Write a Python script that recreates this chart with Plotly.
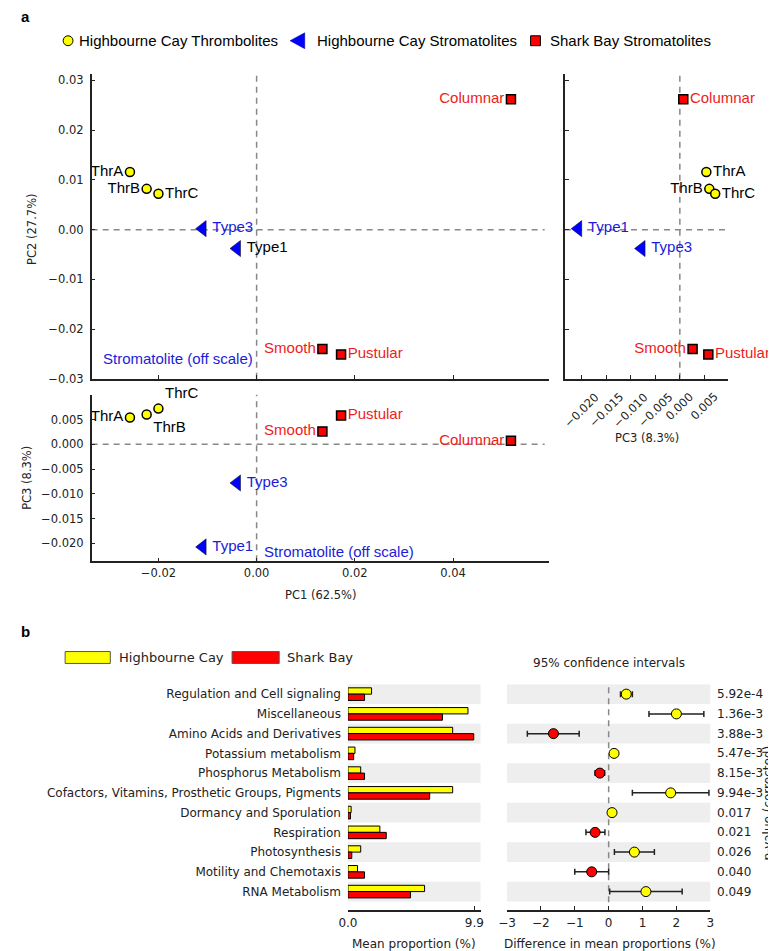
import plotly.graph_objects as go

W, H = 776, 951

def px(p):
    return p / W

def py(p):
    return 1 - p / H

# ---------------- Panel a data ----------------
thr_names = ["ThrA", "ThrB", "ThrC"]
thr_pc1 = [-0.0258, -0.0224, -0.0200]
thr_pc2 = [0.0116, 0.0082, 0.0072]
thr_pc3 = [0.0054, 0.0060, 0.0072]

hcs_names = ["Type1", "Type3"]
hcs_names_pc12 = ["Type3", "Type1"]   # labels as printed in PC1-PC2 panel
hcs_pc1 = [-0.0110, -0.0040]
hcs_pc2 = [0.0002, -0.0038]
hcs_pc3 = [-0.0207, -0.0078]

sb_names = ["Columnar", "Smooth", "Pustular"]
sb_pc1 = [0.0518, 0.0134, 0.0172]
sb_pc2 = [0.0262, -0.0240, -0.0251]
sb_pc3 = [0.0007, 0.0026, 0.0058]

pc12_ticks_x = [-0.02, 0.0, 0.02, 0.04]
pc2_ticks = [-0.03, -0.02, -0.01, 0.0, 0.01, 0.02, 0.03]
pc3_ticks = [-0.020, -0.015, -0.010, -0.005, 0.0, 0.005]

# ---------------- Panel b data ----------------
categories = [
    "Regulation and Cell signaling",
    "Miscellaneous",
    "Amino Acids and Derivatives",
    "Potassium metabolism",
    "Phosphorus Metabolism",
    "Cofactors, Vitamins, Prosthetic Groups, Pigments",
    "Dormancy and Sporulation",
    "Respiration",
    "Photosynthesis",
    "Motility and Chemotaxis",
    "RNA Metabolism",
]
highbourne = [1.85, 9.4, 8.2, 0.55, 1.0, 8.2, 0.25, 2.5, 1.0, 0.75, 6.0]
sharkbay = [1.3, 7.4, 9.85, 0.45, 1.3, 6.4, 0.2, 3.0, 0.3, 1.3, 4.9]
diff_mean = [0.52, 2.0, -1.63, 0.16, -0.26, 1.83, 0.1, -0.4, 0.76, -0.5, 1.1]
diff_low = [0.35, 1.19, -2.4, 0.10, -0.40, 0.70, 0.05, -0.67, 0.17, -1.0, 0.03]
diff_high = [0.70, 2.81, -0.87, 0.22, -0.12, 2.96, 0.15, -0.11, 1.35, 0.0, 2.17]
p_values = ["5.92e-4", "1.36e-3", "3.88e-3", "5.47e-3", "8.15e-3", "9.94e-3",
            "0.017", "0.021", "0.026", "0.040", "0.049"]

YEL = "#FFFF00"
RED = "#FF0000"
BLUE = "#0000FF"
RED_TXT = "#EE1C1C"
BLUE_TXT = "#1C1CD8"
LBL_FONT = "Liberation Sans, Arial, sans-serif"
AX_FONT = "DejaVu Sans, sans-serif"

fig = go.Figure()

def add_group(xs, ys, names, positions, colors, symbol, fill, size, lw, xa, ya):
    fig.add_trace(go.Scatter(
        x=xs, y=ys, mode="markers+text", text=names, textposition=positions,
        textfont=dict(family=LBL_FONT, size=15, color=colors),
        marker=dict(symbol=symbol, color=fill, size=size,
                    line=dict(color="black", width=lw)),
        xaxis=xa, yaxis=ya, showlegend=False, cliponaxis=False, hoverinfo="skip"))

# PC1 vs PC2
add_group(thr_pc1, thr_pc2, thr_names, ["middle left", "middle left", "middle right"],
          ["black"] * 3, "circle", YEL, 9, 1.5, "x", "y")
add_group(hcs_pc1, hcs_pc2, hcs_names_pc12, ["middle right", "middle right"],
          [BLUE_TXT, "black"], "triangle-left", BLUE, 14, 0.5, "x", "y")
add_group(sb_pc1, sb_pc2, sb_names, ["middle left", "middle left", "middle right"],
          [RED_TXT] * 3, "square", RED, 9, 1.5, "x", "y")

# PC1 vs PC3
add_group(thr_pc1, thr_pc3, thr_names, ["middle left", "bottom right", "top right"],
          ["black"] * 3, "circle", YEL, 9, 1.5, "x2", "y2")
add_group(hcs_pc1, hcs_pc3, hcs_names, ["middle right", "middle right"],
          [BLUE_TXT] * 2, "triangle-left", BLUE, 14, 0.5, "x2", "y2")
add_group(sb_pc1, sb_pc3, sb_names, ["middle left", "middle left", "middle right"],
          [RED_TXT] * 3, "square", RED, 9, 1.5, "x2", "y2")

# PC3 vs PC2
add_group(thr_pc3, thr_pc2, thr_names, ["middle right", "middle left", "middle right"],
          ["black"] * 3, "circle", YEL, 9, 1.5, "x3", "y3")
add_group(hcs_pc3, hcs_pc2, hcs_names, ["middle right", "middle right"],
          [BLUE_TXT] * 2, "triangle-left", BLUE, 14, 0.5, "x3", "y3")
add_group(sb_pc3, sb_pc2, sb_names, ["middle right", "middle left", "middle right"],
          [RED_TXT] * 3, "square", RED, 9, 1.5, "x3", "y3")

# ---------------- Panel b traces ----------------
rows = list(range(len(categories)))
fig.add_trace(go.Bar(x=highbourne, y=rows, orientation="h", xaxis="x4", yaxis="y4",
                     width=0.32, offset=-0.32, marker=dict(color=YEL, line=dict(color="black", width=1)),
                     showlegend=False, hoverinfo="skip"))
fig.add_trace(go.Bar(x=sharkbay, y=rows, orientation="h", xaxis="x4", yaxis="y4",
                     width=0.32, offset=0.0, marker=dict(color=RED, line=dict(color="black", width=1)),
                     showlegend=False, hoverinfo="skip"))

plus = [h - m for h, m in zip(diff_high, diff_mean)]
minus = [m - l for m, l in zip(diff_mean, diff_low)]
pt_colors = [YEL if m > 0 else RED for m in diff_mean]
fig.add_trace(go.Scatter(
    x=diff_mean, y=rows, mode="markers", xaxis="x5", yaxis="y5",
    marker=dict(color=pt_colors, size=10, line=dict(color="black", width=1)),
    error_x=dict(type="data", array=plus, arrayminus=minus, color="#222222",
                 thickness=1.5, width=3),
    showlegend=False, hoverinfo="skip", cliponaxis=False))

# ---------------- Axes ----------------
tickfont = dict(family=AX_FONT, size=11.5, color="#222222")
common = dict(showgrid=False, zeroline=False, showline=True, linecolor="#222222",
              linewidth=1.5, ticks="inside", ticklen=4, tickcolor="#222222",
              tickfont=tickfont)

top_y_dom = [py(373), py(66)]
left_x_dom = [px(75), px(541)]
pc1_range = [-0.0336, 0.0596]
pc2_range = [-0.0300, 0.0312]

fig.update_layout(
    xaxis=dict(domain=left_x_dom, range=pc1_range, anchor="y", tickvals=pc12_ticks_x,
               showticklabels=False, **common),
    yaxis=dict(domain=top_y_dom, range=pc2_range, anchor="x", tickvals=pc2_ticks,
               tickformat=".2f", ticklabelstandoff=4, **common),
    xaxis2=dict(domain=left_x_dom, range=pc1_range, anchor="y2", tickvals=pc12_ticks_x,
                tickformat=".2f", **common),
    yaxis2=dict(domain=[py(557), py(389)], range=[-0.0236, 0.0100], anchor="x2",
                tickvals=pc3_ticks, tickformat=".3f", ticklabelstandoff=4, **common),
    xaxis3=dict(domain=[px(557), px(723)], range=[-0.0234, 0.0098], anchor="y3",
                tickvals=pc3_ticks, showticklabels=False, **common),
    yaxis3=dict(domain=top_y_dom, range=pc2_range, anchor="x3", tickvals=pc2_ticks,
                showticklabels=False, **common),
)

b_tickfont = dict(family=AX_FONT, size=12, color="#222222")
b_y_dom = [py(909), py(681)]
row_range = [10.95, -0.5]
fig.update_layout(
    xaxis4=dict(domain=[px(336), px(471)], range=[0, 10.38], anchor="y4",
                tickvals=[0, 9.9], ticktext=["0.0", "9.9"], showgrid=False, zeroline=False,
                showline=True, linecolor="#222222", linewidth=1.5, ticks="inside",
                ticklen=5, tickcolor="#222222", tickfont=b_tickfont),
    yaxis4=dict(domain=b_y_dom, range=row_range, anchor="x4", tickvals=rows,
                ticktext=categories, showgrid=False, zeroline=False, showline=False,
                ticks="", tickfont=b_tickfont, ticklabelstandoff=6),
    xaxis5=dict(domain=[px(498), px(705)], range=[-3, 3], anchor="y5",
                tickvals=[-3, -2, -1, 0, 1, 2, 3], showgrid=False, zeroline=False,
                showline=True, linecolor="#222222", linewidth=1.5, ticks="inside",
                ticklen=5, tickcolor="#222222", tickfont=b_tickfont),
    yaxis5=dict(domain=b_y_dom, range=row_range, anchor="x5", showticklabels=False,
                showgrid=False, zeroline=False, showline=False, ticks=""),
)

# ---------------- Shapes ----------------
shapes = []
dash = dict(color="#888888", width=1.5, dash="6px,5px")
for xa, ya in [("x", "y"), ("x2", "y2"), ("x3", "y3")]:
    shapes.append(dict(type="line", xref=xa, yref=ya + " domain", x0=0, x1=0, y0=0, y1=1,
                       line=dash, layer="below"))
    shapes.append(dict(type="line", xref=xa + " domain", yref=ya, x0=0, x1=0.99, y0=0, y1=0,
                       line=dash, layer="below"))
for i in rows:
    if i % 2 == 0:
        for xa, ya in [("x4", "y4"), ("x5", "y5")]:
            shapes.append(dict(type="rect", xref=xa + " domain", yref=ya, x0=0, x1=1,
                               y0=i - 0.5, y1=i + 0.5, fillcolor="#EEEEEE",
                               line=dict(width=0), layer="below"))
shapes.append(dict(type="line", xref="x5", yref="y5", x0=0, x1=0, y0=-0.9, y1=10.75,
                   line=dash, layer="below"))

# legend glyphs (panel a)
shapes.append(dict(type="circle", xref="paper", yref="paper", x0=px(46), x1=px(56),
                   y0=py(37), y1=py(27), fillcolor=YEL, line=dict(color="black", width=1)))
shapes.append(dict(type="path", xref="paper", yref="paper",
                   path=f"M {px(277)},{py(32)} L {px(292)},{py(24)} L {px(292)},{py(40)} Z",
                   fillcolor=BLUE, line=dict(color="#000088", width=0.5)))
shapes.append(dict(type="rect", xref="paper", yref="paper", x0=px(522), x1=px(532),
                   y0=py(37), y1=py(27), fillcolor=RED, line=dict(color="black", width=1)))
# legend glyphs (panel b)
shapes.append(dict(type="rect", xref="paper", yref="paper", x0=px(48), x1=px(94),
                   y0=py(660), y1=py(648), fillcolor=YEL, line=dict(color="#555555", width=1)))
shapes.append(dict(type="rect", xref="paper", yref="paper", x0=px(218), x1=px(266),
                   y0=py(660), y1=py(648), fillcolor=RED, line=dict(color="#555555", width=1)))

# ---------------- Annotations ----------------
ann = []

def t(x, y, text, size=12, family=AX_FONT, color="#222222", xanchor="center",
      yanchor="middle", angle=0, bold=False):
    ann.append(dict(x=px(x), y=py(y), xref="paper", yref="paper", text=f"<b>{text}</b>" if bold else text,
                    showarrow=False, xanchor=xanchor, yanchor=yanchor, textangle=angle,
                    font=dict(size=size, family=family, color=color)))

t(8, 8, "a", size=15, family=LBL_FONT, color="black", bold=True)
t(8, 628, "b", size=15, family=LBL_FONT, color="black", bold=True)
t(60, 32, "Highbourne Cay Thrombolites", size=15, family=LBL_FONT, color="black", xanchor="left")
t(302, 32, "Highbourne Cay Stromatolites", size=15, family=LBL_FONT, color="black", xanchor="left")
t(540, 32, "Shark Bay Stromatolites", size=15, family=LBL_FONT, color="black", xanchor="left")
t(101, 654, "Highbourne Cay", size=13, xanchor="left")
t(272, 654, "Shark Bay", size=13, xanchor="left")

t(14, 222, "PC2 (27.7%)", size=11.5, angle=-90)
t(9, 473, "PC3 (8.3%)", size=11.5, angle=-90)
t(308, 591, "PC1 (62.5%)", size=11.5)
t(641, 433, "PC3 (8.3%)", size=11.5)
t(85, 352, "Stromatolite (off scale)", size=15, family=LBL_FONT, color=BLUE_TXT, xanchor="left")
t(248, 547, "Stromatolite (off scale)", size=15, family=LBL_FONT, color=BLUE_TXT, xanchor="left")

t(602, 660, "95% confidence intervals")
t(403, 943, "Mean proportion (%)")
t(603, 943, "Difference in mean proportions (%)")
t(764, 801, "p-value (corrected)", angle=-90)

# rotated tick labels of the PC3 axis (right panel), centred under their ticks
for v in pc3_ticks:
    ann.append(dict(x=v, xref="x3", y=py(381), yref="paper", text=f"{v:.3f}".replace("-", "\u2212"),
                    showarrow=False, xanchor="center", yanchor="top", textangle=-45,
                    font=dict(size=11.5, family=AX_FONT, color="#222222")))

for i, p in enumerate(p_values):
    ann.append(dict(x=px(710), y=i, xref="paper", yref="y5", text=p, showarrow=False,
                    xanchor="left", yanchor="middle",
                    font=dict(size=12, family=AX_FONT, color="#222222")))

fig.update_layout(
    width=W, height=H, margin=dict(l=0, r=0, t=0, b=0),
    paper_bgcolor="white", plot_bgcolor="white",
    shapes=shapes, annotations=ann, showlegend=False, barmode="overlay",
)

fig.write_html("out.html")
